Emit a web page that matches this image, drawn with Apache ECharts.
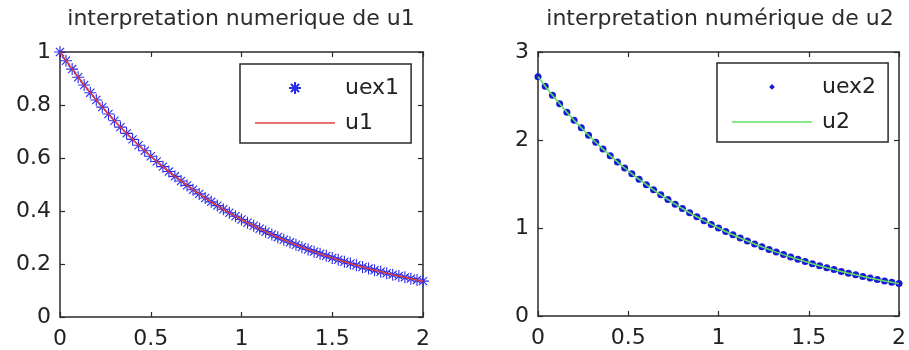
<!DOCTYPE html>
<html>
<head>
<meta charset="utf-8">
<script src="https://cdn.jsdelivr.net/npm/echarts@6/dist/echarts.min.js"></script>
<style>
html,body{margin:0;padding:0;background:#fff;}
#chart{width:909px;height:350px;}
</style>
</head>
<body>
<div id="chart"></div>
<script>
// ---- data ----
const titles = ['interpretation numerique de u1', 'interpretation numérique de u2'];
const xTicks = [0, 0.5, 1, 1.5, 2];
const y1Ticks = [0, 0.2, 0.4, 0.6, 0.8, 1];
const y2Ticks = [0, 1, 2, 3];

const x1 = [0, 0.033, 0.067, 0.1, 0.133, 0.167, 0.2, 0.233, 0.267, 0.3, 0.333, 0.367, 0.4, 0.433, 0.467, 0.5,
  0.533, 0.567, 0.6, 0.633, 0.667, 0.7, 0.733, 0.767, 0.8, 0.833, 0.867, 0.9, 0.933, 0.967, 1,
  1.033, 1.067, 1.1, 1.133, 1.167, 1.2, 1.233, 1.267, 1.3, 1.333, 1.367, 1.4, 1.433, 1.467, 1.5,
  1.533, 1.567, 1.6, 1.633, 1.667, 1.7, 1.733, 1.767, 1.8, 1.833, 1.867, 1.9, 1.933, 1.967, 2];
const uex1 = [1, 0.967, 0.9355, 0.9048, 0.8752, 0.8465, 0.8187, 0.7919, 0.7659, 0.7408, 0.7165, 0.6930, 0.6703,
  0.6483, 0.6271, 0.6065, 0.5866, 0.5674, 0.5488, 0.5308, 0.5134, 0.4966, 0.4803, 0.4646, 0.4493, 0.4346,
  0.4204, 0.4066, 0.3932, 0.3804, 0.3679, 0.3558, 0.3442, 0.3329, 0.3220, 0.3114, 0.3012, 0.2913, 0.2818,
  0.2725, 0.2636, 0.2549, 0.2466, 0.2385, 0.2307, 0.2231, 0.2158, 0.2087, 0.2019, 0.1953, 0.1889, 0.1827,
  0.1767, 0.1709, 0.1653, 0.1599, 0.1546, 0.1496, 0.1447, 0.1399, 0.1353];
const u1 = [1, 0.967, 0.9355, 0.9048, 0.8752, 0.8465, 0.8187, 0.7919, 0.7659, 0.7408, 0.7165, 0.6930, 0.6703,
  0.6483, 0.6271, 0.6065, 0.5866, 0.5674, 0.5488, 0.5308, 0.5134, 0.4966, 0.4803, 0.4646, 0.4493, 0.4346,
  0.4204, 0.4066, 0.3932, 0.3804, 0.3679, 0.3558, 0.3442, 0.3329, 0.3220, 0.3114, 0.3012, 0.2913, 0.2818,
  0.2725, 0.2636, 0.2549, 0.2466, 0.2385, 0.2307, 0.2231, 0.2158, 0.2087, 0.2019, 0.1953, 0.1889, 0.1827,
  0.1767, 0.1709, 0.1653, 0.1599, 0.1546, 0.1496, 0.1447, 0.1399, 0.1353];

const x2 = [0, 0.04, 0.08, 0.12, 0.16, 0.2, 0.24, 0.28, 0.32, 0.36, 0.4, 0.44, 0.48, 0.52, 0.56, 0.6, 0.64, 0.68,
  0.72, 0.76, 0.8, 0.84, 0.88, 0.92, 0.96, 1, 1.04, 1.08, 1.12, 1.16, 1.2, 1.24, 1.28, 1.32, 1.36, 1.4,
  1.44, 1.48, 1.52, 1.56, 1.6, 1.64, 1.68, 1.72, 1.76, 1.8, 1.84, 1.88, 1.92, 1.96, 2];
const uex2 = [2.7183, 2.6117, 2.5093, 2.4109, 2.3164, 2.2255, 2.1383, 2.0544, 1.9739, 1.8965, 1.8221, 1.7507,
  1.6820, 1.6161, 1.5527, 1.4918, 1.4333, 1.3771, 1.3231, 1.2712, 1.2214, 1.1735, 1.1275, 1.0833, 1.0408,
  1.0000, 0.9608, 0.9231, 0.8869, 0.8521, 0.8187, 0.7866, 0.7558, 0.7261, 0.6977, 0.6703, 0.6440, 0.6188,
  0.5945, 0.5712, 0.5488, 0.5273, 0.5066, 0.4868, 0.4677, 0.4493, 0.4317, 0.4148, 0.3985, 0.3829, 0.3679];
const u2 = [2.7183, 2.6117, 2.5093, 2.4109, 2.3164, 2.2255, 2.1383, 2.0544, 1.9739, 1.8965, 1.8221, 1.7507,
  1.6820, 1.6161, 1.5527, 1.4918, 1.4333, 1.3771, 1.3231, 1.2712, 1.2214, 1.1735, 1.1275, 1.0833, 1.0408,
  1.0000, 0.9608, 0.9231, 0.8869, 0.8521, 0.8187, 0.7866, 0.7558, 0.7261, 0.6977, 0.6703, 0.6440, 0.6188,
  0.5945, 0.5712, 0.5488, 0.5273, 0.5066, 0.4868, 0.4677, 0.4493, 0.4317, 0.4148, 0.3985, 0.3829, 0.3679];

// ---- styling ----
const FONT = 'DejaVu Sans';
const AXC = '#2a2a2a';
const STAR = 'path://M5,0L5,10M0,5L10,5M1.6,1.6L8.4,8.4M8.4,1.6L1.6,8.4';
const DOT_LEGEND = 'path://M0,0L0.01,0L0.01,0.01Z M10,10L10.01,10L10.01,10.01Z M5,2.6L7.4,5L5,7.4L2.6,5Z';
const LINE_LEGEND = 'path://M0,0L80,0L80,1.5L0,1.5Z';

function pairs(xs, ys) { return xs.map((x, i) => [x, ys[i]]); }
function span(t) { return { min: t[0], max: t[t.length - 1], interval: t[1] - t[0] }; }

function xAxisDef(grid, pos, showLabel) {
  return Object.assign({
    type: 'value', gridIndex: grid, position: pos,
    splitLine: { show: false },
    axisLine: { show: true, onZero: false, lineStyle: { color: AXC, width: 1.5 } },
    axisTick: { show: true, inside: true, length: 5, lineStyle: { color: AXC, width: 1.2 } },
    axisLabel: { show: showLabel, fontFamily: FONT, fontSize: 22, color: '#222', margin: 11 }
  }, span(xTicks));
}
function yAxisDef(grid, pos, showLabel, ticks) {
  return Object.assign({
    type: 'value', gridIndex: grid, position: pos,
    splitLine: { show: false },
    axisLine: { show: true, onZero: false, lineStyle: { color: AXC, width: 1.5 } },
    axisTick: { show: true, inside: true, length: 5, lineStyle: { color: AXC, width: 1.2 } },
    axisLabel: { show: showLabel, fontFamily: FONT, fontSize: 22, color: '#222', margin: 9 }
  }, span(ticks));
}
function legendDef(left, top, names) {
  return {
    left: left, top: top, orient: 'vertical',
    data: names,
    padding: [12, 12, 8, 15],
    itemGap: 11, itemWidth: 80, itemHeight: 12,
    symbolKeepAspect: true,
    borderColor: AXC, borderWidth: 1.5, backgroundColor: '#fff',
    selectedMode: false,
    textStyle: { fontFamily: FONT, fontSize: 22, color: '#222', lineHeight: 24, padding: [0, 0, 0, 5] }
  };
}

const option = {
  backgroundColor: '#fff',
  animation: false,
  title: [
    { text: titles[0], left: 241, top: 8, textAlign: 'center', padding: 0,
      textStyle: { fontFamily: FONT, fontSize: 22, fontWeight: 'normal', color: '#2e2a30' } },
    { text: titles[1], left: 720, top: 8, textAlign: 'center', padding: 0,
      textStyle: { fontFamily: FONT, fontSize: 22, fontWeight: 'normal', color: '#2e2a30' } }
  ],
  grid: [
    { left: 60, top: 52, width: 363, height: 265 },
    { left: 538, top: 52, width: 364, height: 264 }
  ],
  xAxis: [
    xAxisDef(0, 'bottom', true), xAxisDef(0, 'top', false),
    xAxisDef(1, 'bottom', true), xAxisDef(1, 'top', false)
  ],
  yAxis: [
    yAxisDef(0, 'left', true, y1Ticks), yAxisDef(0, 'right', false, y1Ticks),
    yAxisDef(1, 'left', true, y2Ticks), yAxisDef(1, 'right', false, y2Ticks)
  ],
  legend: [
    legendDef(240, 64, ['uex1', { name: 'u1', icon: LINE_LEGEND }]),
    legendDef(717, 63, [{ name: 'uex2', icon: DOT_LEGEND }, { name: 'u2', icon: LINE_LEGEND }])
  ],
  series: [
    { name: 'uex1', type: 'scatter', xAxisIndex: 0, yAxisIndex: 0, data: pairs(x1, uex1),
      symbol: STAR, symbolSize: 12,
      itemStyle: { color: '#2a2aee', borderColor: '#2a2aee', borderWidth: 1.1, opacity: 1 } },
    { name: 'u1', type: 'line', xAxisIndex: 0, yAxisIndex: 0, data: pairs(x1, u1),
      showSymbol: false, symbol: 'none', lineStyle: { color: '#e0403c', width: 1.5 }, itemStyle: { color: '#e0403c' } },
    { name: 'uex2', type: 'scatter', xAxisIndex: 2, yAxisIndex: 2, data: pairs(x2, uex2),
      symbol: 'circle', symbolSize: 7,
      itemStyle: { color: '#1a1ad6', opacity: 1 } },
    { name: 'u2', type: 'line', xAxisIndex: 2, yAxisIndex: 2, data: pairs(x2, u2),
      showSymbol: false, symbol: 'none', lineStyle: { color: '#5ee05e', width: 1.5 }, itemStyle: { color: '#5ee05e' } }
  ]
};

const chart = echarts.init(document.getElementById('chart'), null, { renderer: 'canvas' });
chart.setOption(option);
</script>
</body>
</html>
